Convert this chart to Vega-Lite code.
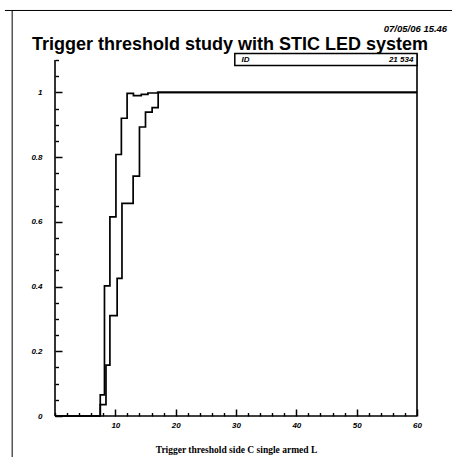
{
  "$schema": "https://vega.github.io/schema/vega-lite/v6.json",
  "autosize": "none",
  "width": 362,
  "height": 356,
  "padding": {"left": 55, "top": 60, "right": 40, "bottom": 41},
  "background": "white",
  "config": {"view": {"stroke": null}, "font": "Liberation Sans", "axis": {"zindex": 2}},
  "resolve": {"axis": {"x": "independent", "y": "independent"}},
  "datasets": {
    "curves": [
      {"series": "A", "threshold": 0, "efficiency": 0},
      {"series": "A", "threshold": 7.5, "efficiency": 0.065},
      {"series": "A", "threshold": 8.2, "efficiency": 0.402},
      {"series": "A", "threshold": 9.1, "efficiency": 0.615},
      {"series": "A", "threshold": 10.1, "efficiency": 0.808},
      {"series": "A", "threshold": 11.0, "efficiency": 0.92},
      {"series": "A", "threshold": 11.95, "efficiency": 0.997},
      {"series": "A", "threshold": 13.0, "efficiency": 0.99},
      {"series": "A", "threshold": 14.3, "efficiency": 0.994},
      {"series": "A", "threshold": 15.4, "efficiency": 0.998},
      {"series": "A", "threshold": 17.0, "efficiency": 1.0},
      {"series": "A", "threshold": 60, "efficiency": 1.0},
      {"series": "B", "threshold": 0, "efficiency": 0},
      {"series": "B", "threshold": 7.5, "efficiency": 0.035},
      {"series": "B", "threshold": 8.45, "efficiency": 0.157},
      {"series": "B", "threshold": 9.1, "efficiency": 0.31},
      {"series": "B", "threshold": 10.3, "efficiency": 0.425},
      {"series": "B", "threshold": 11.1, "efficiency": 0.657},
      {"series": "B", "threshold": 12.95, "efficiency": 0.741},
      {"series": "B", "threshold": 14.0, "efficiency": 0.893},
      {"series": "B", "threshold": 15.0, "efficiency": 0.939},
      {"series": "B", "threshold": 16.1, "efficiency": 0.953},
      {"series": "B", "threshold": 17.1, "efficiency": 1.0},
      {"series": "B", "threshold": 60, "efficiency": 1.0}
    ],
    "one": [{}]
  },
  "layer": [
    {
      "data": {"name": "curves"},
      "mark": {"type": "line", "interpolate": "step-after", "color": "black", "strokeWidth": 1.7, "clip": false},
      "encoding": {
        "x": {
          "field": "threshold",
          "type": "quantitative",
          "scale": {"domain": [0, 60], "nice": false, "zero": false},
          "axis": {
            "orient": "bottom",
            "offset": -7,
            "title": "Trigger threshold side C single armed L",
            "values": [10, 20, 30, 40, 50, 60],
            "domain": false,
            "ticks": true,
            "tickSize": 7,
            "tickColor": "black",
            "tickOpacity": 1,
            "tickWidth": 1.5,
            "grid": false,
            "labelFont": "Liberation Sans",
            "labelFontStyle": "italic",
            "labelFontWeight": "bold",
            "labelFontSize": 8,
            "labelColor": "black",
            "labelPadding": 5,
            "labelOverlap": false,
            "labelFlush": false,
            "titleFont": "Liberation Serif",
            "titleFontWeight": "bold",
            "titleFontSize": 9.5,
            "titleColor": "black",
            "titlePadding": 15
          }
        },
        "y": {
          "field": "efficiency",
          "type": "quantitative",
          "scale": {"domain": [0, 1.1], "nice": false, "zero": false},
          "axis": {
            "orient": "left",
            "offset": -7,
            "title": null,
            "values": [0, 0.2, 0.4, 0.6, 0.8, 1],
            "format": "~g",
            "domain": false,
            "ticks": true,
            "tickSize": 7,
            "tickColor": "black",
            "tickOpacity": 1,
            "tickWidth": 1.5,
            "grid": false,
            "labelFont": "Liberation Sans",
            "labelFontStyle": "italic",
            "labelFontWeight": "bold",
            "labelFontSize": 8,
            "labelColor": "black",
            "labelPadding": 13,
            "labelOverlap": false,
            "labelFlush": false
          }
        },
        "detail": {"field": "series", "type": "nominal"}
      }
    },
    {
      "data": {"name": "curves"},
      "mark": {"type": "line", "opacity": 0, "clip": false},
      "encoding": {
        "x": {
          "field": "threshold",
          "type": "quantitative",
          "axis": {
            "orient": "bottom",
            "offset": -3.5,
            "title": null,
            "values": [0,2,4,6,8,12,14,16,18,22,24,26,28,32,34,36,38,42,44,46,48,52,54,56,58],
            "domain": false,
            "labels": false,
            "ticks": true,
            "tickSize": 3.5,
            "tickColor": "black",
            "tickOpacity": 1,
            "tickWidth": 1.4,
            "grid": false
          }
        },
        "y": {
          "field": "efficiency",
          "type": "quantitative",
          "axis": {
            "orient": "left",
            "offset": -3.5,
            "title": null,
            "values": [0.05,0.1,0.15,0.25,0.3,0.35,0.45,0.5,0.55,0.65,0.7,0.75,0.85,0.9,0.95,1.05,1.1],
            "domain": false,
            "labels": false,
            "ticks": true,
            "tickSize": 3.5,
            "tickColor": "black",
            "tickOpacity": 1,
            "tickWidth": 1.4,
            "grid": false
          }
        },
        "detail": {"field": "series", "type": "nominal"}
      }
    },
    {
      "data": {"name": "one"},
      "mark": {"type": "rule", "color": "black", "strokeWidth": 1.6, "clip": false},
      "encoding": {"x": {"datum": 0, "axis": null}, "y": {"datum": 0, "axis": null}, "y2": {"datum": 1.1}}
    },
    {
      "data": {"name": "one"},
      "mark": {"type": "rule", "color": "black", "strokeWidth": 1.6, "clip": false},
      "encoding": {"x": {"datum": 0, "axis": null}, "x2": {"datum": 60}, "y": {"datum": 0, "axis": null}}
    },
    {
      "data": {"name": "one"},
      "mark": {"type": "rule", "color": "black", "strokeWidth": 1.6, "clip": false},
      "encoding": {"x": {"datum": 60, "axis": null}, "y": {"datum": 0, "axis": null}, "y2": {"datum": 1.12}}
    },
    {
      "data": {"name": "one"},
      "mark": {"type": "rect", "fill": "white", "stroke": "black", "strokeWidth": 1.5, "clip": false},
      "encoding": {"x": {"datum": 29.8, "axis": null}, "x2": {"datum": 60}, "y": {"datum": 1.083, "axis": null}, "y2": {"datum": 1.12}}
    },
    {
      "data": {"name": "one"},
      "mark": {"type": "text", "align": "left", "baseline": "middle", "font": "Liberation Sans", "fontStyle": "italic", "fontWeight": "bold", "fontSize": 8, "color": "black", "clip": false},
      "encoding": {"x": {"datum": 30.9, "axis": null}, "y": {"datum": 1.1015, "axis": null}, "text": {"value": "ID"}}
    },
    {
      "data": {"name": "one"},
      "mark": {"type": "text", "align": "right", "baseline": "middle", "font": "Liberation Sans", "fontStyle": "italic", "fontWeight": "bold", "fontSize": 8, "color": "black", "clip": false},
      "encoding": {"x": {"datum": 59.4, "axis": null}, "y": {"datum": 1.1015, "axis": null}, "text": {"value": "21 534"}}
    },
    {
      "data": {"name": "one"},
      "mark": {"type": "text", "align": "center", "baseline": "alphabetic", "font": "Liberation Sans", "fontWeight": "bold", "fontSize": 18, "color": "black", "clip": false},
      "encoding": {"x": {"datum": 29.0, "axis": null}, "y": {"datum": 1.13, "axis": null}, "text": {"value": "Trigger threshold study with STIC LED system"}}
    },
    {
      "data": {"name": "one"},
      "mark": {"type": "text", "align": "right", "baseline": "middle", "font": "Liberation Sans", "fontStyle": "italic", "fontWeight": "bold", "fontSize": 9.5, "color": "black", "clip": false},
      "encoding": {"x": {"datum": 65, "axis": null}, "y": {"datum": 1.195, "axis": null}, "text": {"value": "07/05/06  15.46"}}
    },
    {
      "data": {"name": "one"},
      "mark": {"type": "rule", "color": "black", "strokeWidth": 1, "clip": false},
      "encoding": {"x": {"datum": -8.3, "axis": null}, "x2": {"datum": 65.8}, "y": {"datum": 1.253, "axis": null}}
    },
    {
      "data": {"name": "one"},
      "mark": {"type": "rule", "color": "black", "strokeWidth": 1, "clip": false},
      "encoding": {"x": {"datum": -7.1, "axis": null}, "y": {"datum": 1.253, "axis": null}, "y2": {"datum": -0.13}}
    }
  ]
}
